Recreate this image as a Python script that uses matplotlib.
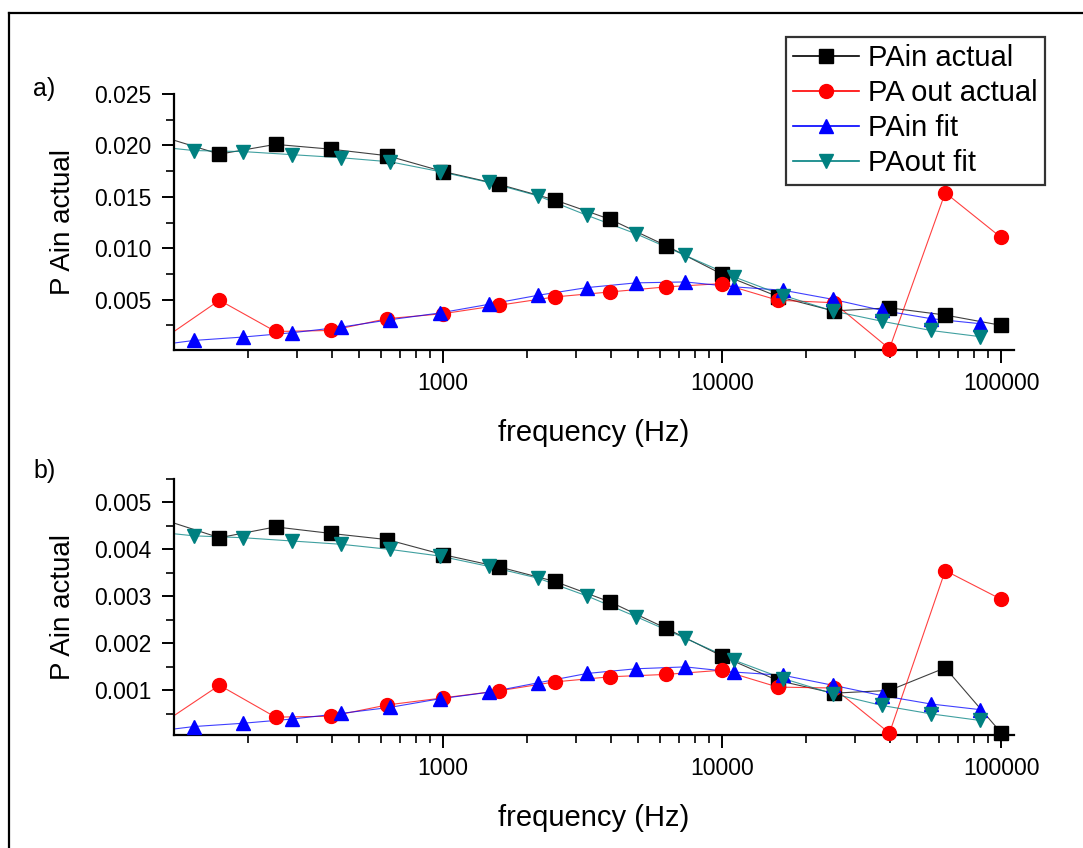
import numpy as np
import matplotlib
matplotlib.use("Agg")
import matplotlib.pyplot as plt
from matplotlib.lines import Line2D
from matplotlib.ticker import MultipleLocator, FormatStrFormatter, LogLocator, FuncFormatter, NullFormatter

plt.rcParams["font.family"] = ["Liberation Sans", "DejaVu Sans"]

# frequencies (Hz); first entries sit left of the visible range and only feed the line
freq_actual = [100, 158, 251, 398, 631, 1000, 1585, 2512, 3981, 6310,
               10000, 15849, 25119, 39811, 63096, 100000]
freq_fit = [85, 128, 192, 288, 432, 648, 972, 1458, 2187, 3281, 4921,
            7381, 11072, 16608, 24912, 37368, 56052, 84078]

# panel a)
pain_actual_a = [0.0208, 0.01915, 0.0201, 0.01963, 0.0190, 0.01746, 0.01622, 0.0147,
                 0.0128, 0.01024, 0.00747, 0.0053, 0.0039, 0.0042, 0.0035, 0.0025]
paout_actual_a = [0.00123, 0.00494, 0.0019, 0.0020, 0.00315, 0.00363, 0.00445, 0.00526,
                  0.00575, 0.00624, 0.00656, 0.00494, 0.0047, 0.00022, 0.0154, 0.01105]
pain_fit_a = [0.0004, 0.00103, 0.00136, 0.00178, 0.00233, 0.00305, 0.0037, 0.00454, 0.00542,
              0.00617, 0.00663, 0.00672, 0.00624, 0.00591, 0.00503, 0.00396, 0.00315, 0.00266]
paout_fit_a = [0.0200, 0.0195, 0.0194, 0.0191, 0.0188, 0.0184, 0.01746, 0.0164, 0.0151,
               0.0132, 0.0114, 0.0093, 0.0072, 0.0054, 0.0039, 0.0029, 0.0020, 0.0014]

# panel b)
pain_actual_b = [0.00463, 0.00425, 0.00448, 0.00434, 0.00421, 0.00389, 0.00363, 0.00332,
                 0.00288, 0.00232, 0.00173, 0.00121, 0.00094, 0.0010, 0.00148, 0.0001]
paout_actual_b = [0.00032, 0.00111, 0.00043, 0.00045, 0.00069, 0.00084, 0.00099, 0.00118,
                  0.00129, 0.00134, 0.00143, 0.00107, 0.00105, 0.00009, 0.00355, 0.00294]
pain_fit_b = [0.0001, 0.00023, 0.0003, 0.00039, 0.00051, 0.00064, 0.00082, 0.00096, 0.00116,
              0.00136, 0.00146, 0.0015, 0.00139, 0.00132, 0.00111, 0.00089, 0.00071, 0.00059]
paout_fit_b = [0.0044, 0.00429, 0.00425, 0.00418, 0.00411, 0.0040, 0.00386, 0.00364, 0.00339,
               0.00301, 0.00257, 0.00211, 0.00164, 0.00125, 0.00093, 0.00068, 0.0005, 0.00036]

labels = ["PAin actual", "PA out actual", "PAin fit", "PAout fit"]
colors = ["black", "#ff0000", "#0000ff", "#008080"]
markers = ["s", "o", "^", "v"]
XLIM = (108.6, 111300)


def draw_series(ax, x, y, color, marker, label):
    x = np.asarray(x, dtype=float)
    y = np.asarray(y, dtype=float)
    ax.plot(x, y, color=color, lw=0.8, alpha=0.75, zorder=2)
    keep = x >= XLIM[0]
    ax.plot(x[keep], y[keep], ls="none", marker=marker, ms=10, color=color,
            mec=color, clip_on=False, zorder=3)
    return Line2D([], [], color=color, lw=1.2, marker=marker, ms=10, label=label)


def style_axes(ax, ylim, major, minor):
    ax.set_xscale("log")
    ax.set_xlim(*XLIM)
    ax.set_ylim(*ylim)
    for s in ["top", "right"]:
        ax.spines[s].set_visible(False)
    for s in ["left", "bottom"]:
        ax.spines[s].set_linewidth(1.6)
    ax.yaxis.set_major_locator(MultipleLocator(major))
    ax.yaxis.set_minor_locator(MultipleLocator(minor))
    ax.yaxis.set_major_formatter(FormatStrFormatter("%.3f"))
    ax.xaxis.set_major_locator(LogLocator(base=10))
    ax.xaxis.set_minor_locator(LogLocator(base=10, subs=np.arange(2, 10)))
    ax.xaxis.set_major_formatter(FuncFormatter(lambda v, p: f"{v:.0f}"))
    ax.xaxis.set_minor_formatter(NullFormatter())
    ax.tick_params(axis="both", which="major", direction="out", length=9, width=1.4,
                   labelsize=16.5, pad=7)
    ax.tick_params(axis="both", which="minor", direction="out", length=6, width=1.2)
    ax.set_xlabel("frequency (Hz)", fontsize=21, labelpad=17)
    ax.set_ylabel("P Ain actual", fontsize=20, labelpad=13)


fig = plt.figure(figsize=(10.83, 8.48), dpi=100)
W, H = 1083, 848
ax_a = fig.add_axes([174 / W, 1 - 350 / H, 840 / W, 256 / H])
ax_b = fig.add_axes([174 / W, 1 - 735 / H, 840 / W, 256 / H])

handles = []
for ax, series in [(ax_a, [pain_actual_a, paout_actual_a, pain_fit_a, paout_fit_a]),
                   (ax_b, [pain_actual_b, paout_actual_b, pain_fit_b, paout_fit_b])]:
    hs = []
    for i, y in enumerate(series):
        x = freq_actual if i < 2 else freq_fit
        hs.append(draw_series(ax, x, y, colors[i], markers[i], labels[i]))
    if not handles:
        handles = hs

style_axes(ax_a, (0.0001, 0.025), 0.005, 0.0025)
style_axes(ax_b, (0.00005, 0.0055), 0.001, 0.0005)

leg = ax_a.legend(handles=handles, loc="upper right", bbox_to_anchor=(1045 / W, 1 - 37 / H),
                  bbox_transform=fig.transFigure, fontsize=21, frameon=True, fancybox=False,
                  borderaxespad=0, borderpad=0.25, labelspacing=0.24, handlelength=2.26,
                  handletextpad=0.3)
leg.get_frame().set_edgecolor("black")
leg.get_frame().set_linewidth(1.6)
leg.set_zorder(5)

fig.text(33 / W, 1 - 89 / H, "a)", fontsize=18, va="center", ha="left")
fig.text(33 / W, 1 - 471 / H, "b)", fontsize=18, va="center", ha="left")

# outer frame (top and left edges visible)
fig.add_artist(Line2D([9 / W, 1.0], [1 - 13 / H, 1 - 13 / H], color="black", lw=1.6,
                      transform=fig.transFigure))
fig.add_artist(Line2D([9 / W, 9 / W], [1 - 13 / H, 0.0], color="black", lw=1.6,
                      transform=fig.transFigure))

fig.savefig("out.png", dpi=100)
